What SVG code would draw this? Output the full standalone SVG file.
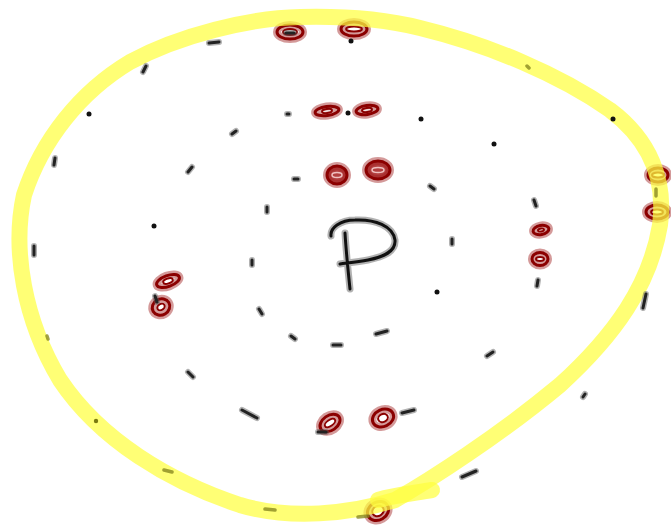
<svg xmlns="http://www.w3.org/2000/svg" width="671" height="528" viewBox="0 0 671 528">
<style>
.halo{fill:none;stroke:#a02020;stroke-opacity:.45;stroke-width:8}
.ov{fill:none;stroke:#8b0000;stroke-width:3}
.in{fill:none;stroke:#8b0000;stroke-width:2}
.dh{fill:none;stroke:#555;stroke-opacity:.45;stroke-width:6;stroke-linecap:round}
.d{fill:none;stroke:#222;stroke-width:3;stroke-linecap:round}
.od{fill:none;stroke:#8a8a20;stroke-width:3.5;stroke-linecap:round;stroke-opacity:.8}
.dot{fill:#111}
.loop{fill:none;stroke:#ffff40;stroke-opacity:.72;stroke-width:16;stroke-linecap:round;stroke-linejoin:round}
</style>
<rect width="671" height="528" fill="#fff"/>
<g id="ovals">
<g id="o1" transform="translate(290,32)"><ellipse class="halo" rx="13" ry="7"/><ellipse class="ov" rx="13" ry="7"/><ellipse class="in" rx="7" ry="3"/></g>
<g id="o2" transform="translate(354,29)"><ellipse class="halo" rx="13" ry="7"/><ellipse class="ov" rx="13" ry="7"/><ellipse class="in" rx="8" ry="2.5"/></g>
<g id="o3" transform="translate(327,111) rotate(-8)"><ellipse class="halo" rx="12" ry="4.5"/><ellipse class="ov" rx="12" ry="4.5"/><ellipse class="in" rx="5" ry="2"/></g>
<g id="o4" transform="translate(367,110) rotate(-8)"><ellipse class="halo" rx="11" ry="4.5"/><ellipse class="ov" rx="11" ry="4.5"/><ellipse class="in" rx="5" ry="2"/></g>
<g id="o5" transform="translate(337,175)"><ellipse class="halo" rx="10" ry="9" style="fill:#a01010;fill-opacity:.8"/><ellipse class="ov" rx="10" ry="9"/><ellipse rx="5" ry="2.5" fill="none" stroke="#f0c0c0" stroke-width="1.5"/></g>
<g id="o6" transform="translate(378,170)"><ellipse class="halo" rx="12" ry="9" style="fill:#a01010;fill-opacity:.8"/><ellipse class="ov" rx="12" ry="9"/><ellipse rx="6" ry="2.5" fill="none" stroke="#f0c0c0" stroke-width="1.5"/></g>
<g id="o7" transform="translate(658,175)"><ellipse class="halo" rx="10" ry="7"/><ellipse class="ov" rx="10" ry="7"/><ellipse class="in" rx="6" ry="2.5"/></g>
<g id="o8" transform="translate(657,212)"><ellipse class="halo" rx="11" ry="7"/><ellipse class="ov" rx="11" ry="7"/><ellipse class="in" rx="6" ry="2.5"/></g>
<g id="o9" transform="translate(541,230) rotate(-10)"><ellipse class="halo" rx="8" ry="4.5"/><ellipse class="ov" rx="8" ry="4.5"/><ellipse class="in" rx="3" ry="1.5"/></g>
<g id="o10" transform="translate(540,259)"><ellipse class="halo" rx="8" ry="6.5"/><ellipse class="ov" rx="8" ry="6.5"/><ellipse class="in" rx="4" ry="2"/></g>
<g id="o11" transform="translate(168,281) rotate(-20)"><ellipse class="halo" rx="12" ry="5.5"/><ellipse class="ov" rx="12" ry="5.5"/><ellipse class="in" rx="5" ry="2.5"/></g>
<g id="o12" transform="translate(161,307) rotate(-30)"><ellipse class="halo" rx="9" ry="8"/><ellipse class="ov" rx="9" ry="8"/><ellipse class="in" rx="4" ry="3"/></g>
<g id="o13" transform="translate(330,423) rotate(-35)"><ellipse class="halo" rx="11" ry="7.5"/><ellipse class="ov" rx="11" ry="7.5"/><ellipse class="in" rx="6" ry="3"/></g>
<g id="o14" transform="translate(383,418) rotate(-25)"><ellipse class="halo" rx="11" ry="8.5"/><ellipse class="ov" rx="11" ry="8.5"/><ellipse class="in" rx="5" ry="4"/></g>
<g id="o15" transform="translate(378,511) rotate(-30)"><ellipse class="halo" rx="11" ry="9"/><ellipse class="ov" rx="11" ry="9"/><ellipse class="in" rx="6" ry="5"/></g>
</g>
<g id="loop">
<path class="loop" d="M300,17 C250,18 180,35 130,62 C80,92 42,140 24,195 C12,250 24,320 60,380 C100,440 170,482 240,505 C290,520 350,514 395,500 C430,480 500,435 560,385 C615,335 650,285 660,225 C666,180 650,140 610,110 C560,75 490,45 420,28 C380,18 340,16 300,17 Z"/>
<path class="loop" d="M378,500 C395,495 415,493 432,490"/>
</g>
<g id="dashes">
<path class="dh" d="M209,43 L219,42 M143,72 L146,66 M232,134 L236,131 M54,165 L55,158 M188,172 L192,167 M287,114 L289,114 M294,179 L298,179 M267,207 L267,212 M430,186 L434,189 M534,200 L536,206 M34,246 L34,255 M252,260 L252,265 M452,239 L452,244 M538,280 L537,286 M155,296 L157,302 M259,309 L262,314 M291,336 L295,339 M333,345 L341,345 M376,334 L387,331 M487,356 L493,352 M646,294 L643,308 M188,372 L193,377 M242,410 L257,418 M402,413 L414,410 M318,432 L326,432 M583,397 L585,394 M462,477 L476,471 M286,33 L294,33"/>
<path class="d" d="M209,43 L219,42 M143,72 L146,66 M232,134 L236,131 M54,165 L55,158 M188,172 L192,167 M287,114 L289,114 M294,179 L298,179 M267,207 L267,212 M430,186 L434,189 M534,200 L536,206 M34,246 L34,255 M252,260 L252,265 M452,239 L452,244 M538,280 L537,286 M155,296 L157,302 M259,309 L262,314 M291,336 L295,339 M333,345 L341,345 M376,334 L387,331 M487,356 L493,352 M646,294 L643,308 M188,372 L193,377 M242,410 L257,418 M402,413 L414,410 M318,432 L326,432 M583,397 L585,394 M462,477 L476,471 M286,33 L294,33"/>
<path class="od" d="M164,470 L172,472 M47,336 L48,339 M527,66 L529,68 M265,509 L275,510 M656,189 L656,196 M358,517 L368,516"/>
</g>
<g id="dots">
<circle class="dot" cx="351" cy="41" r="2.5"/>
<circle class="dot" cx="89" cy="114" r="2.5"/>
<circle class="dot" cx="348" cy="113" r="2.5"/>
<circle class="dot" cx="421" cy="119" r="2.5"/>
<circle class="dot" cx="613" cy="119" r="2.5"/>
<circle class="dot" cx="494" cy="144" r="2.5"/>
<circle class="dot" cx="154" cy="226" r="2.5"/>
<circle class="dot" cx="437" cy="292" r="2.5"/>
<circle cx="96" cy="421" r="2.2" fill="#7a7a10"/>
</g>
<g id="P">
<path d="M345,233 C346,250 348,270 350,289 M331,236 C330,228 340,220 355,220 C375,219 393,226 395,240 C396,252 383,257 368,260 C357,262 347,263 340,264" fill="none" stroke="#666" stroke-opacity=".5" stroke-width="7" stroke-linecap="round"/>
<path d="M345,233 C346,250 348,270 350,289 M331,236 C330,228 340,220 355,220 C375,219 393,226 395,240 C396,252 383,257 368,260 C357,262 347,263 340,264" fill="none" stroke="#111" stroke-width="3" stroke-linecap="round"/>
</g>
</svg>
